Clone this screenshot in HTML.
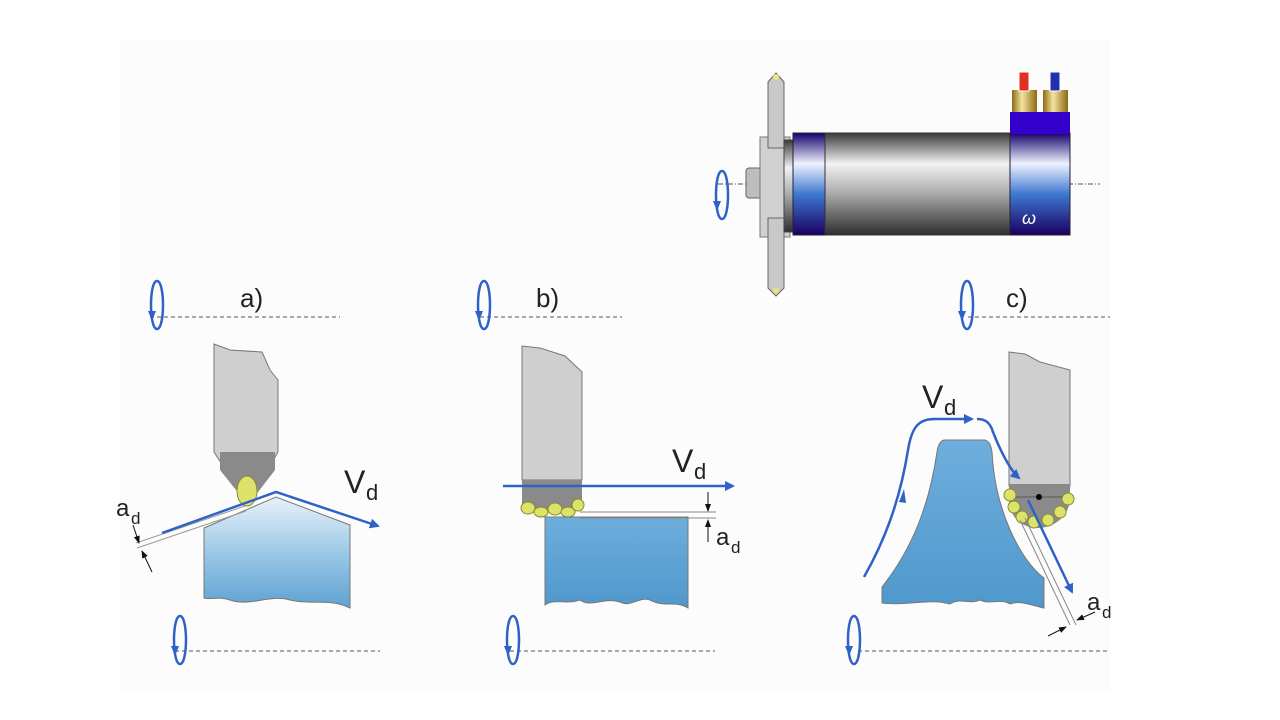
<!DOCTYPE html><html><head><style>body{margin:0;background:#fff}svg{display:block}text{font-family:"Liberation Sans",sans-serif;fill:#222}</style></head><body>
<svg width="1280" height="720" viewBox="0 0 1280 720" xmlns="http://www.w3.org/2000/svg">
<defs>
<linearGradient id="cyl" x1="0" y1="0" x2="0" y2="1"><stop offset="0" stop-color="#3a3a3a"/><stop offset=".3" stop-color="#f2f2f2"/><stop offset=".6" stop-color="#a8a8a8"/><stop offset="1" stop-color="#2e2e2e"/></linearGradient>
<linearGradient id="blu" x1="0" y1="0" x2="0" y2="1"><stop offset="0" stop-color="#16006a"/><stop offset=".3" stop-color="#eef2ff"/><stop offset=".6" stop-color="#3e78d0"/><stop offset="1" stop-color="#1a0060"/></linearGradient>
<linearGradient id="wa" x1="0" y1="0" x2="0" y2="1"><stop offset="0" stop-color="#e8f2fa"/><stop offset=".5" stop-color="#9cc8e6"/><stop offset="1" stop-color="#5ea2d2"/></linearGradient>
<linearGradient id="wb" x1="0" y1="0" x2="0" y2="1"><stop offset="0" stop-color="#6eaedc"/><stop offset="1" stop-color="#4f98cc"/></linearGradient>
<linearGradient id="brass" x1="0" y1="0" x2="1" y2="0"><stop offset="0" stop-color="#8a6a10"/><stop offset=".4" stop-color="#f6e3a0"/><stop offset="1" stop-color="#8a6a10"/></linearGradient>
<marker id="ah" markerWidth="10" markerHeight="10" refX="8" refY="5" orient="auto" markerUnits="userSpaceOnUse"><path d="M0,0 L10,5 L0,10 z" fill="#2f62c8"/></marker>
<marker id="sa" markerWidth="8" markerHeight="8" refX="7" refY="4" orient="auto" markerUnits="userSpaceOnUse"><path d="M0,1 L8,4 L0,7 z" fill="#111"/></marker>
<g id="loop"><path d="M0,-24 C-8,-24 -8,24 0,24 C8,24 8,-24 0,-24" fill="none" stroke="#2f62c8" stroke-width="2.5"/><path d="M-9,6 L-1,6 L-5,16z" fill="#2f62c8"/></g>
</defs>
<rect x="120" y="40" width="990" height="650" fill="#fcfcfc"/>
<g stroke="#555" stroke-width="1" stroke-dasharray="4,3">
<line x1="150" y1="317" x2="340" y2="317"/><line x1="175" y1="651" x2="380" y2="651"/>
<line x1="480" y1="317" x2="622" y2="317"/><line x1="510" y1="651" x2="715" y2="651"/>
<line x1="968" y1="317" x2="1110" y2="317"/><line x1="858" y1="651" x2="1110" y2="651"/>
</g>
<use href="#loop" x="157" y="305"/><use href="#loop" x="180" y="640"/>
<use href="#loop" x="484" y="305"/><use href="#loop" x="513" y="640"/>
<use href="#loop" x="967" y="305"/><use href="#loop" x="854" y="640"/>
<use href="#loop" x="722" y="195"/>
<text x="240" y="307" font-size="26">a)</text><text x="536" y="307" font-size="26">b)</text><text x="1006" y="307" font-size="26">c)</text>
<!-- spindle -->
<line x1="718" y1="184" x2="1100" y2="184" stroke="#555" stroke-dasharray="5,2,1,2"/>
<rect x="746" y="168" width="20" height="30" rx="3" fill="#bdbdbd" stroke="#666"/>
<rect x="760" y="137" width="30" height="100" fill="#d0d0d0" stroke="#777"/>
<path d="M768,82 L776,73 L784,82 L784,148 L768,148z M768,218 L784,218 L784,288 L776,296 L768,288z" fill="#c8c8c8" stroke="#666"/>
<circle cx="776" cy="77" r="3" fill="#e6e67a"/><circle cx="776" cy="291" r="3" fill="#e6e67a"/>
<rect x="784" y="140" width="12" height="92" fill="url(#cyl)" stroke="#444"/>
<rect x="793" y="133" width="32" height="102" fill="url(#blu)" stroke="#223"/>
<rect x="825" y="133" width="186" height="102" fill="url(#cyl)" stroke="#333"/>
<rect x="1010" y="133" width="60" height="102" fill="url(#blu)" stroke="#223"/>
<rect x="1010" y="112" width="60" height="22" fill="#3300cc"/>
<rect x="1012" y="90" width="25" height="22" fill="url(#brass)"/><rect x="1043" y="90" width="25" height="22" fill="url(#brass)"/>
<rect x="1019" y="72" width="10" height="19" fill="#e03020" stroke="#fff"/><rect x="1050" y="72" width="10" height="19" fill="#2030b0" stroke="#fff"/>
<text x="1022" y="224" font-size="18" font-style="italic" style="fill:#fff">ω</text>
<!-- panel a -->
<path d="M214,344 L230,350 L262,352 L270,370 L278,380 L278,452 L248,505 L214,452z" fill="#cfcfcf" stroke="#777"/>
<path d="M220,452 L275,452 L275,470 L248,505 L220,470z" fill="#8a8a8a"/>
<path d="M204,528 L276,497 L350,525 L350,608 C330,598 310,605 290,600 C270,594 250,607 230,600 C220,596 210,600 204,598z" fill="url(#wa)" stroke="#777"/>
<ellipse cx="247" cy="491" rx="10" ry="15" fill="#dde36a" stroke="#8a8a30"/>
<line x1="136" y1="543" x2="245" y2="506" stroke="#999"/><line x1="137" y1="548" x2="246" y2="511" stroke="#999"/>
<polyline points="162,533 276,492 378,526" fill="none" stroke="#2f62c8" stroke-width="2.5" marker-end="url(#ah)"/>
<line x1="133" y1="525" x2="139" y2="543" stroke="#111" marker-end="url(#sa)"/><line x1="152" y1="572" x2="142" y2="551" stroke="#111" marker-end="url(#sa)"/>
<text x="116" y="516" font-size="24">a</text><text x="131" y="524" font-size="17">d</text>
<text x="344" y="493" font-size="32">V</text><text x="366" y="500" font-size="22">d</text>
<!-- panel b -->
<path d="M522,346 L540,348 L565,356 L582,372 L582,480 L522,480z" fill="#cfcfcf" stroke="#777"/>
<rect x="522" y="480" width="60" height="30" fill="#8a8a8a"/>
<g fill="#dde36a" stroke="#8a8a30"><ellipse cx="528" cy="508" rx="7" ry="6"/><ellipse cx="541" cy="512" rx="7" ry="5"/><ellipse cx="555" cy="509" rx="7" ry="6"/><ellipse cx="568" cy="512" rx="7" ry="5"/><ellipse cx="578" cy="505" rx="6" ry="6"/></g>
<path d="M545,517 L688,517 L688,608 C675,600 665,608 650,600 C640,596 630,608 620,602 C605,597 590,608 580,600 C565,605 555,598 545,605z" fill="url(#wb)" stroke="#777"/>
<line x1="580" y1="512" x2="716" y2="512" stroke="#888"/><line x1="580" y1="518" x2="716" y2="518" stroke="#888"/>
<line x1="503" y1="486" x2="733" y2="486" stroke="#2f62c8" stroke-width="2.5" marker-end="url(#ah)"/>
<line x1="708" y1="492" x2="708" y2="511" stroke="#111" marker-end="url(#sa)"/><line x1="708" y1="542" x2="708" y2="520" stroke="#111" marker-end="url(#sa)"/>
<text x="716" y="545" font-size="24">a</text><text x="731" y="553" font-size="17">d</text>
<text x="672" y="472" font-size="32">V</text><text x="694" y="479" font-size="22">d</text>
<!-- panel c -->
<path d="M1009,352 L1025,354 L1040,362 L1070,370 L1070,486 L1009,486z" fill="#cfcfcf" stroke="#777"/>
<path d="M1009,484 L1070,484 L1070,500 C1068,520 1050,528 1038,528 C1020,528 1009,515 1009,500z" fill="#8a8a8a"/>
<line x1="1009" y1="497" x2="1070" y2="497" stroke="#555"/>
<circle cx="1039" cy="497" r="3" fill="#000"/>
<g fill="#dde36a" stroke="#8a8a30"><ellipse cx="1010" cy="495" rx="6" ry="6"/><ellipse cx="1014" cy="507" rx="6" ry="6"/><ellipse cx="1022" cy="517" rx="6" ry="6"/><ellipse cx="1034" cy="522" rx="6" ry="6"/><ellipse cx="1048" cy="520" rx="6" ry="6"/><ellipse cx="1060" cy="512" rx="6" ry="6"/><ellipse cx="1068" cy="499" rx="6" ry="6"/></g>
<path d="M944,440 L985,440 C990,442 991,446 992,452 C995,510 1020,560 1044,578 L1044,608 C1030,605 1020,600 1010,604 C1000,598 990,605 980,600 C970,605 960,597 950,604 C930,598 910,606 882,603 L882,587 C915,545 930,500 937,452 C938,445 940,441 944,440z" fill="url(#wb)" stroke="#777"/>
<line x1="1020" y1="520" x2="1070" y2="625" stroke="#888"/><line x1="1025" y1="518" x2="1076" y2="625" stroke="#888"/>
<path d="M864,577 C885,540 900,500 908,450 C912,425 920,419 935,419 L972,419" fill="none" stroke="#2f62c8" stroke-width="2.5" marker-end="url(#ah)"/>
<path d="M977,419 C985,419 990,422 993,432 C1000,450 1010,470 1019,478" fill="none" stroke="#2f62c8" stroke-width="2.5" marker-end="url(#ah)"/>
<path d="M899,502 L904,489 L906,503z" fill="#2f62c8"/>
<line x1="1028" y1="500" x2="1072" y2="592" stroke="#2f62c8" stroke-width="2.5" marker-end="url(#ah)"/>
<line x1="1095" y1="612" x2="1077" y2="620" stroke="#111" marker-end="url(#sa)"/><line x1="1048" y1="636" x2="1066" y2="627" stroke="#111" marker-end="url(#sa)"/>
<text x="1087" y="610" font-size="24">a</text><text x="1102" y="618" font-size="17">d</text>
<text x="922" y="408" font-size="32">V</text><text x="944" y="415" font-size="22">d</text>
</svg></body></html>
